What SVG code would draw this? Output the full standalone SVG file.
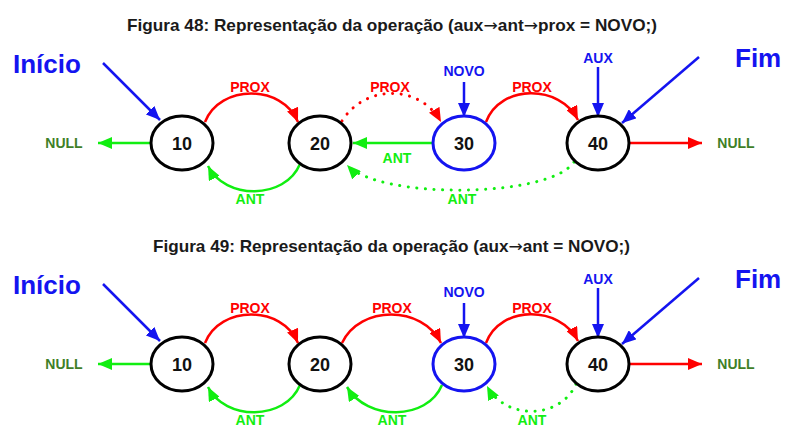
<svg xmlns="http://www.w3.org/2000/svg" width="798" height="438" viewBox="0 0 798 438">
<style>
text{font-family:"Liberation Sans",Arial,sans-serif;font-weight:bold}
.title{font-size:16.5px;fill:#1a1a1a;text-anchor:middle}
.arw{font-family:"DejaVu Sans",sans-serif;font-weight:normal}
.big{font-size:26px;fill:#1414f0}
.lbl{font-size:14px;text-anchor:middle}
.num{font-size:18px;fill:#111;text-anchor:middle}
.null{font-size:14px;fill:#3f7f27;text-anchor:middle}
.node{fill:#fff;stroke:#000;stroke-width:3}
.nodeb{fill:#fff;stroke:#1414f0;stroke-width:3}
.r{fill:none;stroke:#ff0000;stroke-width:2.5}
.g{fill:none;stroke:#11ee11;stroke-width:2.5}
.b{fill:none;stroke:#1414f0;stroke-width:2.5}
.dot{stroke-dasharray:0.1 8.5;stroke-linecap:round;stroke-width:3}
.tr{fill:#ff0000}.tg{fill:#11ee11}.tb{fill:#1414f0}
</style>
<defs>
<marker id="ar" markerUnits="userSpaceOnUse" markerWidth="15" markerHeight="12" refX="14" refY="6" orient="auto"><path d="M0,0 L14,6 L0,12 z" fill="#ff0000"/></marker>
<marker id="ag" markerUnits="userSpaceOnUse" markerWidth="15" markerHeight="12" refX="14" refY="6" orient="auto"><path d="M0,0 L14,6 L0,12 z" fill="#11ee11"/></marker>
<marker id="ab" markerUnits="userSpaceOnUse" markerWidth="15" markerHeight="12" refX="14" refY="6" orient="auto"><path d="M0,0 L14,6 L0,12 z" fill="#1414f0"/></marker>
</defs>

<!-- Figure 48 -->
<g id="fig48">
<text class="title" x="392" y="31" textLength="530" lengthAdjust="spacingAndGlyphs">Figura 48: Representação da operação (aux<tspan class="arw">→</tspan>ant<tspan class="arw">→</tspan>prox = NOVO;)</text>
<text class="big" x="13" y="73">Início</text>
<text class="big" x="735" y="67">Fim</text>
<text class="lbl tb" x="598" y="63">AUX</text>
<text class="lbl tb" x="464" y="76">NOVO</text>
<text class="null" x="64" y="148">NULL</text>
<text class="null" x="736" y="148">NULL</text>
<g id="connectors48">
<line class="b" x1="103" y1="63" x2="160" y2="120" marker-end="url(#ab)"/>
<line class="b" x1="699" y1="57" x2="622" y2="123" marker-end="url(#ab)"/>
<line class="b" x1="598" y1="67" x2="598" y2="117" marker-end="url(#ab)"/>
<line class="b" x1="464" y1="82" x2="464" y2="117" marker-end="url(#ab)"/>
<path class="r" d="M205,122 C220,84 282,84 298,122" marker-end="url(#ar)"/>
<path class="r dot" d="M342,121 C365,84 420,84 441,122" marker-end="url(#ar)"/>
<path class="r" d="M486,122 C500,84 560,84 578,120" marker-end="url(#ar)"/>
<line class="g" x1="151" y1="143" x2="98" y2="143" marker-end="url(#ag)"/>
<line class="r" x1="630" y1="143" x2="702" y2="143" marker-end="url(#ar)"/>
<line class="g" x1="433" y1="143" x2="353" y2="143" marker-end="url(#ag)"/>
<path class="g" d="M300,164 C285,200 225,200 208,166" marker-end="url(#ag)"/>
<path class="g dot" d="M574,162 C550,198 380,200 347,165" marker-end="url(#ag)"/>
<text class="lbl tr" x="250" y="92">PROX</text>
<text class="lbl tr" x="390" y="92">PROX</text>
<text class="lbl tr" x="532" y="92">PROX</text>
<text class="lbl tg" x="397" y="163">ANT</text>
<text class="lbl tg" x="250" y="204">ANT</text>
<text class="lbl tg" x="462" y="204">ANT</text>
</g>
<g id="n48-10"><ellipse class="node" cx="182" cy="143" rx="31" ry="27"/><text class="num" x="182" y="150">10</text></g>
<g id="n48-20"><ellipse class="node" cx="320" cy="143" rx="31" ry="27"/><text class="num" x="320" y="150">20</text></g>
<g id="n48-30"><ellipse class="nodeb" cx="464" cy="143" rx="31" ry="27"/><text class="num" x="464" y="150">30</text></g>
<g id="n48-40"><ellipse class="node" cx="598" cy="143" rx="31" ry="27"/><text class="num" x="598" y="150">40</text></g>
</g>

<!-- Figure 49 -->
<g id="fig49">
<text class="title" x="391.5" y="252" textLength="477" lengthAdjust="spacingAndGlyphs">Figura 49: Representação da operação (aux<tspan class="arw">→</tspan>ant = NOVO;)</text>
<text class="big" x="13" y="294">Início</text>
<text class="big" x="735" y="288">Fim</text>
<text class="lbl tb" x="598" y="284">AUX</text>
<text class="lbl tb" x="464" y="297">NOVO</text>
<text class="null" x="64" y="369">NULL</text>
<text class="null" x="736" y="369">NULL</text>
<g id="connectors49">
<line class="b" x1="103" y1="284" x2="160" y2="341" marker-end="url(#ab)"/>
<line class="b" x1="699" y1="278" x2="622" y2="344" marker-end="url(#ab)"/>
<line class="b" x1="598" y1="288" x2="598" y2="338" marker-end="url(#ab)"/>
<line class="b" x1="464" y1="303" x2="464" y2="338" marker-end="url(#ab)"/>
<path class="r" d="M205,343 C220,305 282,305 298,343" marker-end="url(#ar)"/>
<path class="r" d="M342,343 C360,305 422,305 441,343" marker-end="url(#ar)"/>
<path class="r" d="M486,343 C500,305 560,305 578,341" marker-end="url(#ar)"/>
<line class="g" x1="151" y1="364" x2="98" y2="364" marker-end="url(#ag)"/>
<line class="r" x1="630" y1="364" x2="702" y2="364" marker-end="url(#ar)"/>
<path class="g" d="M300,385 C285,421 225,421 208,387" marker-end="url(#ag)"/>
<path class="g" d="M442,385 C427,421 367,421 347,387" marker-end="url(#ag)"/>
<path class="g dot" d="M576,384 C560,420 505,420 487,386" marker-end="url(#ag)"/>
<text class="lbl tr" x="250" y="313">PROX</text>
<text class="lbl tr" x="392" y="313">PROX</text>
<text class="lbl tr" x="532" y="313">PROX</text>
<text class="lbl tg" x="250" y="425">ANT</text>
<text class="lbl tg" x="392" y="425">ANT</text>
<text class="lbl tg" x="532" y="425">ANT</text>
</g>
<g id="n49-10"><ellipse class="node" cx="182" cy="364" rx="31" ry="27"/><text class="num" x="182" y="371">10</text></g>
<g id="n49-20"><ellipse class="node" cx="320" cy="364" rx="31" ry="27"/><text class="num" x="320" y="371">20</text></g>
<g id="n49-30"><ellipse class="nodeb" cx="464" cy="364" rx="31" ry="27"/><text class="num" x="464" y="371">30</text></g>
<g id="n49-40"><ellipse class="node" cx="598" cy="364" rx="31" ry="27"/><text class="num" x="598" y="371">40</text></g>
</g>
</svg>
